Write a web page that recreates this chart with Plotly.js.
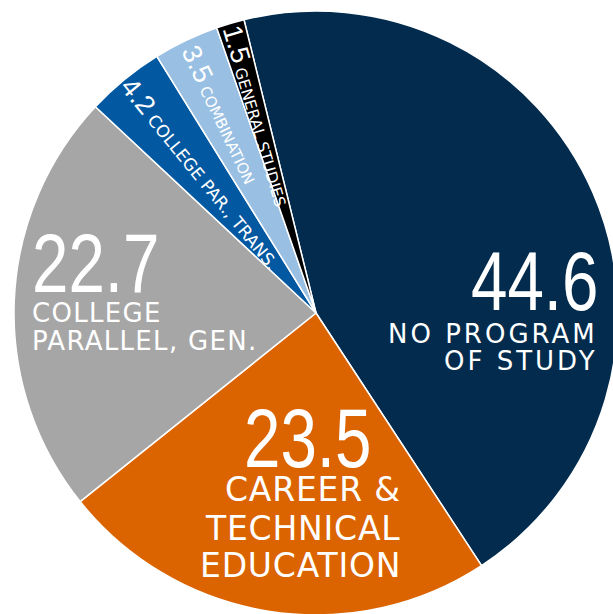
<!DOCTYPE html>
<html>
<head>
<meta charset="utf-8">
<script src="https://cdn.plot.ly/plotly-3.0.1.min.js"></script>
<style>
html,body{margin:0;padding:0;overflow:hidden;background:#fff;width:613px;height:614px;}
#chart{position:absolute;left:0;top:0;width:630px;height:630px;}
</style>
</head>
<body>
<div id="chart"></div>
<script>
// ---- data ----
const categories = ['No program of study','Career & technical education','College parallel, gen.','College par., trans.','Combination','General studies'];
const values = [44.6, 23.5, 22.7, 4.2, 3.5, 1.5];
const numberLabels = ['44.6','23.5','22.7','4.2','3.5','1.5'];
const labelLines = [
  ['NO PROGRAM','OF STUDY'],
  ['CAREER &','TECHNICAL','EDUCATION'],
  ['COLLEGE','PARALLEL, GEN.'],
  ['COLLEGE PAR., TRANS.'],
  ['COMBINATION'],
  ['GENERAL STUDIES']
];
const sliceColors = ['#022b4d','#db6400','#a6a6a6','#0258a1','#99bfe3','#000000'];

// ---- layout / style ----
const W = 630, H = 630;
const cx = 316, cy = 313, R = 302;
const rotation = -13.8;
const NUMFONT = '"Liberation Sans", Arial, sans-serif';
const WIDE = '"DejaVu Sans", Verdana, sans-serif';
const px = x => x / W;
const py = y => 1 - y / H;

const bigStyle = {
  0: {numX: 600, numY: 280.5, anchor: 'right', lineX: 599, lineY: [333.5, 361], size: 26, ls: 3},
  1: {numX: 373, numY: 438, anchor: 'right', lineX: 402, lineY: [489.5, 528, 565], size: 33, ls: 0.8},
  2: {numX: 31, numY: 263, anchor: 'left', lineX: 31, lineY: [312.5, 341], size: 26, ls: 1.3}
};
const smallStyle = {
  3: {rf: 0.60, numSize: 27, size: 17},
  4: {rf: 0.73, numSize: 27, size: 15},
  5: {rf: 0.68, numSize: 27, size: 15.5}
};

const annotations = [];
const numberAnn = {}; // annotation index -> anchor
Object.keys(bigStyle).forEach(k => {
  const i = +k, s = bigStyle[k];
  numberAnn[annotations.length] = s.anchor;
  annotations.push({
    xref: 'paper', yref: 'paper', x: px(s.numX), y: py(s.numY),
    xanchor: s.anchor, yanchor: 'middle', showarrow: false, borderpad: 0,
    text: numberLabels[i], font: {family: NUMFONT, size: 84, color: '#ffffff'}
  });
  labelLines[i].forEach((t, j) => {
    annotations.push({
      xref: 'paper', yref: 'paper', x: px(s.lineX), y: py(s.lineY[j]),
      xanchor: s.anchor, yanchor: 'middle', showarrow: false, borderpad: 0,
      text: "<span style='letter-spacing:" + s.ls + "px'>" + t + "</span>",
      font: {family: WIDE, size: s.size, color: '#ffffff'}
    });
  });
});

const total = values.reduce((a, b) => a + b, 0);
let cum = 0;
values.forEach((v, i) => {
  const mid = rotation + 360 * (cum + v / 2) / total;
  cum += v;
  const s = smallStyle[i];
  if (!s) return;
  const a = mid * Math.PI / 180;
  const x = cx + R * s.rf * Math.sin(a);
  const y = cy - R * s.rf * Math.cos(a);
  const ang = Math.atan2(Math.cos(a), -Math.sin(a)) * 180 / Math.PI;
  annotations.push({
    xref: 'paper', yref: 'paper', x: px(x), y: py(y),
    xanchor: 'center', yanchor: 'middle', showarrow: false, borderpad: 0,
    textangle: ang,
    text: "<span style='font-family:Liberation Sans, Arial;font-size:" + s.numSize + "px'>" + numberLabels[i] + "</span> " + labelLines[i][0],
    font: {family: WIDE, size: s.size, color: '#ffffff'}
  });
});

const trace = {
  type: 'pie',
  labels: categories,
  values: values,
  sort: false,
  direction: 'clockwise',
  rotation: rotation,
  textinfo: 'none',
  hoverinfo: 'label+value',
  marker: {colors: sliceColors, line: {color: '#ffffff', width: 1.5}},
  domain: {x: [(cx - R) / W, (cx + R) / W], y: [1 - (cy + R) / H, 1 - (cy - R) / H]}
};

Plotly.newPlot('chart', [trace], {
  width: W, height: H,
  margin: {l: 0, r: 0, t: 0, b: 0},
  showlegend: false,
  paper_bgcolor: '#ffffff',
  annotations: annotations
}, {displayModeBar: false, staticPlot: true}).then(gd => {
  // condense the big numbers horizontally (reference uses a condensed face)
  gd.querySelectorAll('g.annotation').forEach(g => {
    const idx = g.getAttribute('data-index');
    if (idx !== null && numberAnn[idx]) {
      const t = g.querySelector('text');
      t.style.transformBox = 'fill-box';
      t.style.transformOrigin = (numberAnn[idx] === 'right' ? 'right' : 'left') + ' center';
      t.style.transform = 'scaleX(0.78)';
    }
  });
});
</script>
</body>
</html>
